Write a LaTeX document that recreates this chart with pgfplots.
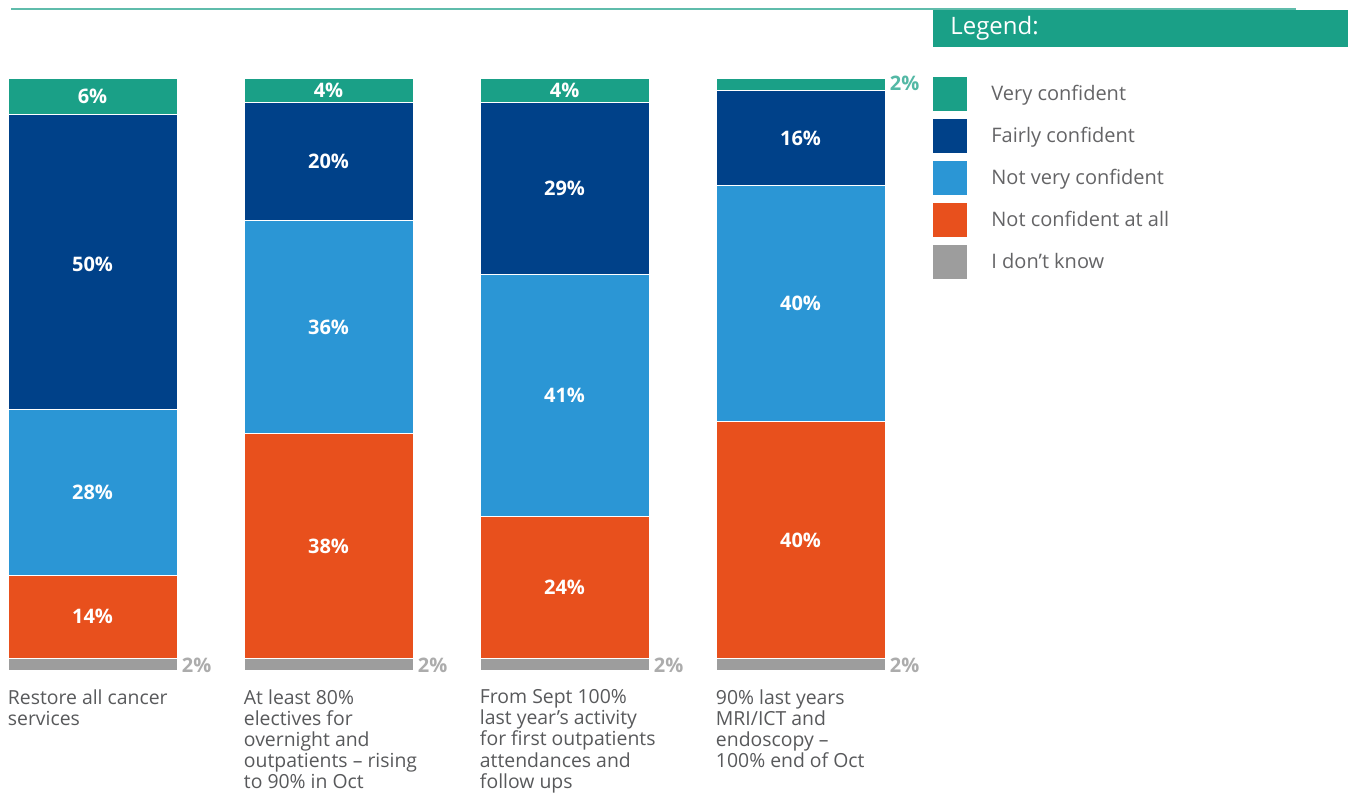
\documentclass[border=0pt]{standalone}
\usepackage{pgfplots}
\pgfplotsset{compat=1.18}
\usepackage{pgfplotstable}
\usepackage{fontspec}
\setmainfont{Open Sans}
\definecolor{vgreen}{RGB}{26,160,135}
\definecolor{fblue}{RGB}{0,65,137}
\definecolor{nblue}{RGB}{43,150,213}
\definecolor{norange}{RGB}{232,80,29}
\definecolor{dgray}{RGB}{157,157,157}
\definecolor{labelgray}{RGB}{88,89,91}
\definecolor{leggray}{RGB}{100,100,102}

\pgfplotstableread{
x dk nca nvc fc vc
0 2 14 28 50 6
1 2 38 36 20 4
2 2 24 41 29 4
3 2 40 40 16 2
}\datatab

\pgfplotstableread{
x y label
0 97 6\%
0 68.7 50\%
0 30 28\%
0 9 14\%
1 98 4\%
1 86 20\%
1 58 36\%
1 21 38\%
2 98 4\%
2 81.5 29\%
2 46.5 41\%
2 14 24\%
3 90 16\%
3 62 40\%
3 22 40\%
}\whitelabels

\pgfplotstableread{
x y label
0 0.8 2\%
1 0.8 2\%
2 0.8 2\%
3 0.8 2\%
}\graylabels

\pgfplotstableread{
x y label
3 99.2 2\%
}\greenlabels

\begin{document}
\begin{tikzpicture}[x=1pt,y=1pt]
\path[use as bounding box] (0,0) rectangle (674,396.5);
\coordinate (AX) at (0,61.5);
\fill[vgreen] (466.5,373) rectangle (674,391.5);
\node[anchor=west, text=white, font=\fontsize{12}{14}\selectfont, inner sep=0pt] at (475,382.5) {Legend:};
\draw[vgreen!70, line width=0.7pt] (5.5,392) -- (648,392);

\begin{axis}[
  at={(AX)}, anchor=south west,
  scale only axis, width=460pt, height=295.5pt,
  xmin=-0.392, xmax=3.506, ymin=0, ymax=100,
  ybar stacked, bar width=84.5pt,
  axis line style={draw=none},
  ytick=\empty,
  xtick={0,1,2,3},
  xticklabels={{Restore all cancer\\services},
    {At least 80\%\\electives for\\overnight and\\outpatients – rising\\to 90\% in Oct},
    {From Sept 100\%\\last year’s activity\\for first outpatients\\attendances and\\follow ups},
    {90\% last years\\MRI/ICT and\\endoscopy –\\100\% end of Oct}},
  major tick length=0pt,
  xticklabel style={anchor=north west, align=left, xshift=-42.5pt, yshift=-9.5pt,
    inner sep=0pt, font=\fontsize{9.7}{10.6}\selectfont, text=labelgray},
  reverse legend,
  legend cell align=left,
  legend style={at={(1.01413,1.00338)}, anchor=north west, draw=none, fill=none,
    inner sep=0pt, row sep=4pt, font=\fontsize{10}{11}\selectfont, text=leggray,
    nodes={inner sep=0pt}},
  legend image code/.code={\fill[#1,draw=none] (0pt,-8.5pt) rectangle (17pt,8.5pt); \path[draw=none, fill=none, opacity=0] (0pt,0pt) -- (29pt,0pt);},
]
\addplot[fill=dgray, draw=white, line width=0.5pt] table[x=x,y=dk] {\datatab};
\addplot[fill=norange, draw=white, line width=0.5pt] table[x=x,y=nca] {\datatab};
\addplot[fill=nblue, draw=white, line width=0.5pt] table[x=x,y=nvc] {\datatab};
\addplot[fill=fblue, draw=white, line width=0.5pt] table[x=x,y=fc] {\datatab};
\addplot[fill=vgreen, draw=white, line width=0.5pt] table[x=x,y=vc] {\datatab};
\legend{I don’t know, Not confident at all, Not very confident, Fairly confident, Very confident}
\end{axis}

\begin{axis}[
  at={(AX)}, anchor=south west,
  scale only axis, width=460pt, height=295.5pt,
  xmin=-0.392, xmax=3.506, ymin=0, ymax=100,
  hide axis, clip=false,
]
\addplot[draw=none, mark=none, point meta=explicit symbolic, nodes near coords,
  every node near coord/.append style={anchor=center, text=white, inner sep=0pt,
    font=\bfseries\fontsize{10}{11}\selectfont}]
  table[x=x, y=y, meta=label] {\whitelabels};
\addplot[draw=none, mark=none, point meta=explicit symbolic, nodes near coords,
  every node near coord/.append style={anchor=west, xshift=44.5pt, text=dgray!85, inner sep=0pt,
    font=\bfseries\fontsize{10}{11}\selectfont}]
  table[x=x, y=y, meta=label] {\graylabels};
\addplot[draw=none, mark=none, point meta=explicit symbolic, nodes near coords,
  every node near coord/.append style={anchor=west, xshift=44.5pt, text=vgreen!75, inner sep=0pt,
    font=\bfseries\fontsize{10}{11}\selectfont}]
  table[x=x, y=y, meta=label] {\greenlabels};
\end{axis}
\end{tikzpicture}
\end{document}
